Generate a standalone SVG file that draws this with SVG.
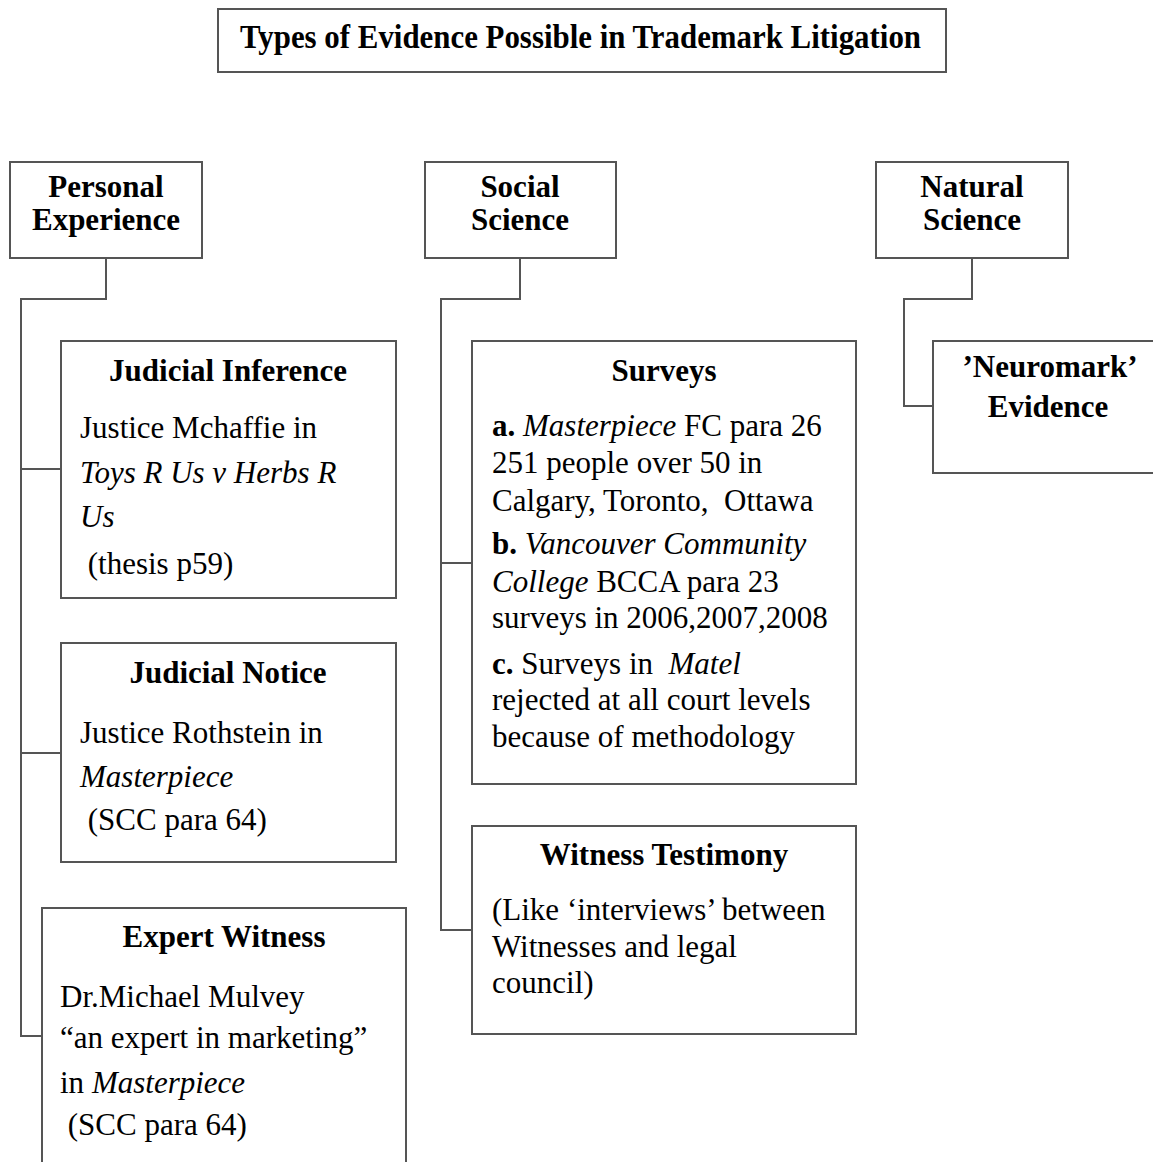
<svg xmlns="http://www.w3.org/2000/svg" width="1153" height="1162" viewBox="0 0 1153 1162">
<style>
.box{fill:#fff;stroke:#555;stroke-width:2}
.con{fill:none;stroke:#555;stroke-width:2}
text{font-family:"Liberation Serif","Times New Roman",serif;font-size:31px;fill:#000}
.b{font-weight:bold}
.c{text-anchor:middle}
.i{font-style:italic}
</style>
<rect width="1153" height="1162" fill="#fff"/>
<g id="connectors">
<path class="con" d="M106,258 V299 H21 V1036 H42 M21,469 H61 M21,753 H61"/>
<path class="con" d="M520,258 V299 H441 V930 H472 M441,563 H472"/>
<path class="con" d="M972,258 V299 H904 V406 H933"/>
</g>
<g id="title">
<rect class="box" x="218" y="9" width="728" height="63"/>
<text class="b" x="240" y="48" textLength="681" lengthAdjust="spacingAndGlyphs" style="font-size:33px">Types of Evidence Possible in Trademark Litigation</text>
</g>
<g id="personal">
<rect class="box" x="10" y="162" width="192" height="96"/>
<text class="b c" x="106" y="197">Personal</text>
<text class="b c" x="106" y="230">Experience</text>
</g>
<g id="social">
<rect class="box" x="425" y="162" width="191" height="96"/>
<text class="b c" x="520" y="197">Social</text>
<text class="b c" x="520" y="230">Science</text>
</g>
<g id="natural">
<rect class="box" x="876" y="162" width="192" height="96"/>
<text class="b c" x="972" y="197">Natural</text>
<text class="b c" x="972" y="230">Science</text>
</g>
<g id="judicial-inference">
<rect class="box" x="61" y="341" width="335" height="257"/>
<text class="b c" x="228" y="381">Judicial Inference</text>
<text x="80" y="438">Justice Mchaffie in</text>
<text class="i" x="80" y="483">Toys R Us v Herbs R</text>
<text class="i" x="80" y="527">Us</text>
<text x="80" y="574" xml:space="preserve"> (thesis p59)</text>
</g>
<g id="judicial-notice">
<rect class="box" x="61" y="643" width="335" height="219"/>
<text class="b c" x="228" y="683">Judicial Notice</text>
<text x="80" y="743">Justice Rothstein in</text>
<text class="i" x="80" y="787">Masterpiece</text>
<text x="80" y="830" xml:space="preserve"> (SCC para 64)</text>
</g>
<g id="expert-witness">
<rect class="box" x="42" y="908" width="364" height="270"/>
<text class="b c" x="224" y="947">Expert Witness</text>
<text x="60" y="1007">Dr.Michael Mulvey</text>
<text x="60" y="1048">“an expert in marketing”</text>
<text x="60" y="1093">in <tspan class="i">Masterpiece</tspan></text>
<text x="60" y="1135" xml:space="preserve"> (SCC para 64)</text>
</g>
<g id="surveys">
<rect class="box" x="472" y="341" width="384" height="443"/>
<text class="b c" x="664" y="381">Surveys</text>
<text x="492" y="436"><tspan class="b">a.</tspan> <tspan class="i">Masterpiece</tspan> FC para 26</text>
<text x="492" y="473">251 people over 50 in</text>
<text x="492" y="511" xml:space="preserve">Calgary, Toronto,  Ottawa</text>
<text x="492" y="554"><tspan class="b">b.</tspan> <tspan class="i">Vancouver Community</tspan></text>
<text x="492" y="592"><tspan class="i">College</tspan> BCCA para 23</text>
<text x="492" y="628">surveys in 2006,2007,2008</text>
<text x="492" y="674" xml:space="preserve"><tspan class="b">c.</tspan> Surveys in  <tspan class="i">Matel</tspan></text>
<text x="492" y="710">rejected at all court levels</text>
<text x="492" y="747">because of methodology</text>
</g>
<g id="witness-testimony">
<rect class="box" x="472" y="826" width="384" height="208"/>
<text class="b c" x="664" y="865">Witness Testimony</text>
<text x="492" y="920">(Like ‘interviews’ between</text>
<text x="492" y="957">Witnesses and legal</text>
<text x="492" y="993">council)</text>
</g>
<g id="neuromark">
<rect class="box" x="933" y="341" width="240" height="132"/>
<text class="b c" x="1050" y="377">’Neuromark’</text>
<text class="b c" x="1048" y="417">Evidence</text>
</g>
</svg>
